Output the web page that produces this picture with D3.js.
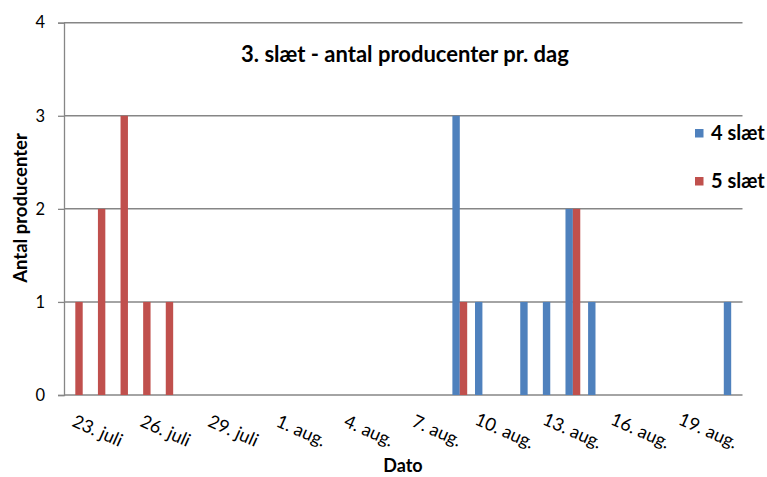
<!DOCTYPE html>
<html>
<head>
<meta charset="utf-8">
<script src="https://cdn.jsdelivr.net/npm/d3@7"></script>
<style>
  body { margin: 0; background: #fff; }
  svg { font-family: Lato, "Open Sans", sans-serif; }
</style>
</head>
<body>
<div id="chart"></div>
<script>
// one category per day, 22. juli .. 20. aug.
const days = [
    "22. juli", "23. juli", "24. juli", "25. juli", "26. juli", "27. juli", "28. juli",
    "29. juli", "30. juli", "31. juli", "1. aug.", "2. aug.", "3. aug.", "4. aug.",
    "5. aug.", "6. aug.", "7. aug.", "8. aug.", "9. aug.", "10. aug.", "11. aug.",
    "12. aug.", "13. aug.", "14. aug.", "15. aug.", "16. aug.", "17. aug.", "18. aug.",
    "19. aug.", "20. aug."
];
const tickLabels = ["23. juli", "26. juli", "29. juli", "1. aug.", "4. aug.",
    "7. aug.", "10. aug.", "13. aug.", "16. aug.", "19. aug."];
const seriesNames = ["4 slæt", "5 slæt"];
const slaet4 = [0, 0, 0, 0, 0, 0, 0, 0, 0, 0, 0, 0, 0, 0, 0, 0, 0, 3, 1, 0, 1, 1, 2, 1, 0, 0, 0, 0, 0, 1];
const slaet5 = [1, 2, 3, 1, 1, 0, 0, 0, 0, 0, 0, 0, 0, 0, 0, 0, 0, 1, 0, 0, 0, 0, 2, 0, 0, 0, 0, 0, 0, 0];
const yTicks = [0, 1, 2, 3, 4];
const colors = ["#4F81BD", "#C0504D"];

const W = 767, H = 477;
const plot = { left: 64, right: 742.5, top: 22.7, bottom: 395 };

const svg = d3.select("#chart").append("svg")
    .attr("width", W)
    .attr("height", H);

const x = d3.scaleBand()
    .domain(days)
    .range([plot.left, plot.right])
    .padding(0);

const inner = d3.scaleBand()
    .domain(seriesNames)
    .range([x.bandwidth() / 2 - 7.4, x.bandwidth() / 2 + 7.4]);

const y = d3.scaleLinear()
    .domain([0, 4])
    .range([plot.bottom, plot.top]);

// y axis with ticks
const yAxis = svg.append("g")
    .attr("transform", `translate(${plot.left},0)`)
    .call(d3.axisLeft(y).tickValues(yTicks).tickSize(6).tickPadding(13).tickFormat(d3.format("d")));
yAxis.select(".domain").attr("stroke", "#868686").attr("stroke-width", 1.3);
yAxis.selectAll(".tick line").attr("stroke", "#868686").attr("stroke-width", 1.3);
yAxis.selectAll(".tick text").attr("fill", "#000").style("font-size", "16.5px").style("font-family", "Lato, sans-serif");

// gridlines
svg.append("g")
    .selectAll("line")
    .data(yTicks)
    .enter()
    .append("line")
    .attr("x1", plot.left)
    .attr("x2", plot.right)
    .attr("y1", d => y(d))
    .attr("y2", d => y(d))
    .attr("stroke", "#868686")
    .attr("stroke-width", 1.5);

// bars
const series = [slaet4, slaet5];
const barData = [];
series.forEach((vals, i) => {
    vals.forEach((v, j) => {
        if (v > 0) barData.push({ day: days[j], name: seriesNames[i], value: v, idx: i });
    });
});

svg.append("g")
    .selectAll("rect")
    .data(barData)
    .enter()
    .append("rect")
    .attr("x", d => x(d.day) + inner(d.name))
    .attr("y", d => y(d.value))
    .attr("width", inner.bandwidth())
    .attr("height", d => y(0) - y(d.value))
    .attr("fill", d => colors[d.idx]);

// x tick labels, rotated
svg.append("g")
    .selectAll("text")
    .data(tickLabels)
    .enter()
    .append("text")
    .attr("transform", d => `translate(${x(d) + x.bandwidth() / 2},${plot.bottom + 35}) rotate(24)`)
    .attr("text-anchor", "middle")
    .attr("dominant-baseline", "central")
    .style("font-size", "18px")
    .text(d => d);

// titles
svg.append("text")
    .attr("x", 405)
    .attr("y", 62)
    .attr("text-anchor", "middle")
    .style("font-size", "22px")
    .style("font-weight", "bold")
    .text("3. slæt - antal producenter pr. dag");

svg.append("text")
    .attr("x", 403)
    .attr("y", 472)
    .attr("text-anchor", "middle")
    .style("font-size", "18px")
    .style("font-weight", "bold")
    .text("Dato");

svg.append("text")
    .attr("transform", `translate(27,208) rotate(-90)`)
    .attr("text-anchor", "middle")
    .style("font-size", "18.5px")
    .style("font-weight", "bold")
    .text("Antal producenter");

// legend
const legend = svg.append("g")
    .selectAll("g")
    .data(seriesNames)
    .enter()
    .append("g")
    .attr("transform", (d, i) => `translate(695,${129 + i * 48})`);

legend.append("rect")
    .attr("width", 8.5)
    .attr("height", 8.5)
    .attr("fill", (d, i) => colors[i]);

legend.append("text")
    .attr("x", 16)
    .attr("y", 10.5)
    .style("font-size", "20px")
    .style("font-weight", "bold")
    .text(d => d);
</script>
</body>
</html>
